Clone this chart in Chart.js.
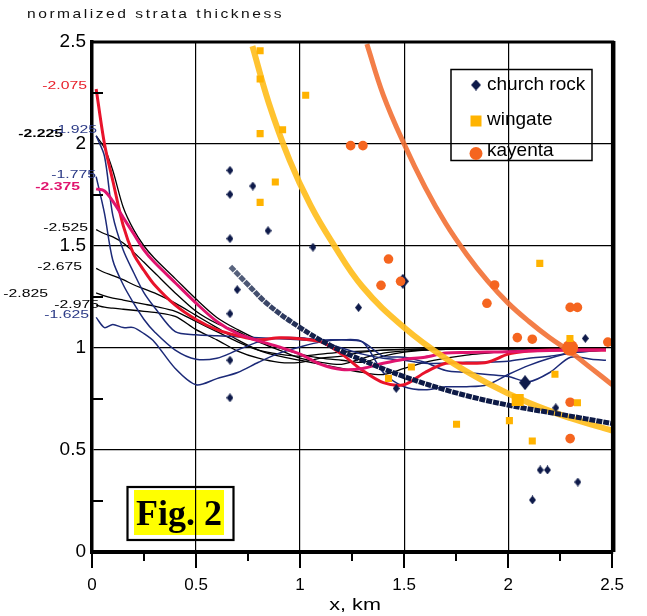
<!DOCTYPE html>
<html>
<head>
<meta charset="utf-8">
<script src="https://cdn.jsdelivr.net/npm/chart.js@4"></script>
<style>
  html, body { margin: 0; padding: 0; background: #fff; }
  canvas { display: block; }
</style>
</head>
<body>
<canvas id="chart" width="647" height="616"></canvas>
<script>
// distance along section (km) where the thickness profiles were sampled
const profileX = [0.02, 0.06, 0.1, 0.15, 0.2, 0.25, 0.3, 0.4, 0.5, 0.6, 0.7, 0.8, 0.9, 1.0, 1.1, 1.2, 1.3, 1.4, 1.5, 1.6, 1.7, 1.8, 1.9, 2.0, 2.1, 2.2, 2.3, 2.4, 2.47];

// normalized thickness profiles, named by their level
const prof2075 = [2.27, 2.0, 1.82, 1.6, 1.46, 1.38, 1.31, 1.21, 1.14, 1.09, 1.06, 1.04, 1.05, 1.045, 1.03, 0.97, 0.89, 0.83, 0.82, 0.88, 0.925, 0.925, 0.93, 0.97, 0.985, 0.99, 0.99, 0.99, 0.99];
const prof2375 = [1.78, 1.77, 1.72, 1.64, 1.56, 1.48, 1.42, 1.32, 1.22, 1.13, 1.07, 1.035, 1.005, 0.97, 0.92, 0.895, 0.9, 0.925, 0.945, 0.955, 0.975, 0.978, 0.98, 0.982, 0.985, 0.988, 0.99, 0.99, 0.99];
const prof2225 = [2.04, 1.98, 1.87, 1.69, 1.58, 1.5, 1.44, 1.34, 1.24, 1.15, 1.09, 1.04, 1.0, 0.97, 0.95, 0.94, 0.93, 0.96, 0.98, 0.99, 0.993, 0.995, 0.995, 0.995, 0.996, 0.996, 0.997, 0.997, 0.997];
const prof2525 = [1.58, 1.56, 1.545, 1.515, 1.47, 1.42, 1.37, 1.27, 1.18, 1.12, 1.08, 1.03, 0.99, 0.95, 0.93, 0.92, 0.95, 0.975, 0.985, 0.99, 0.993, 0.995, 0.995, 0.996, 0.996, 0.997, 0.997, 0.998, 0.998];
const prof2675 = [1.39, 1.37, 1.355, 1.335, 1.31, 1.29, 1.27, 1.22, 1.16, 1.1, 1.04, 0.99, 0.96, 0.94, 0.92, 0.9, 0.88, 0.87, 0.9, 0.93, 0.95, 0.965, 0.975, 0.985, 0.99, 0.993, 0.995, 0.996, 0.996];
const prof2825 = [1.27, 1.255, 1.245, 1.235, 1.225, 1.215, 1.205, 1.18, 1.13, 1.08, 1.03, 0.99, 0.97, 0.96, 0.97, 0.98, 0.985, 0.99, 0.993, 0.995, 0.996, 0.997, 0.998, 0.998, 0.998, 0.999, 0.999, 0.999, 0.999];
const prof2975 = [1.21, 1.2, 1.195, 1.19, 1.185, 1.18, 1.175, 1.155, 1.09, 1.04, 0.985, 0.95, 0.93, 0.93, 0.95, 0.96, 0.98, 0.99, 0.993, 0.995, 0.996, 0.997, 0.998, 0.998, 0.999, 0.999, 1.0, 1.0, 1.0];
const prof1925 = [2.04, 1.94, 1.65, 1.48, 1.37, 1.27, 1.2, 1.08, 1.065, 1.06, 1.055, 1.05, 1.045, 1.04, 1.03, 1.0, 0.97, 0.95, 0.94, 0.925, 0.925, 0.93, 0.93, 0.935, 0.95, 0.96, 0.975, 0.985, 0.99];
const prof1775 = [1.84, 1.66, 1.43, 1.31, 1.22, 1.14, 1.08, 0.99, 0.945, 0.95, 0.99, 1.03, 1.05, 1.05, 1.04, 1.04, 1.03, 0.96, 0.955, 0.93, 0.89, 0.88, 0.87, 0.86, 0.835, 0.88, 0.955, 0.945, 0.94];
const prof1625 = [1.15, 1.1, 1.115, 1.1, 1.1, 1.07, 1.03, 0.9, 0.82, 0.85, 0.88, 0.93, 0.975, 1.005, 1.03, 1.04, 1.03, 0.88, 0.81, 0.795, 0.81, 0.81, 0.82, 0.87, 0.915, 0.95, 0.975, 0.985, 0.99];

// measured points per formation
const churchX = [0.663, 0.663, 0.773, 0.846, 0.663, 1.062, 0.698, 0.663, 1.281, 0.663, 0.663, 1.462, 2.229, 2.371, 2.154, 2.189, 2.335, 2.117];
const churchY = [1.871, 1.753, 1.794, 1.575, 1.536, 1.494, 1.286, 1.168, 1.198, 0.94, 0.756, 0.802, 0.707, 1.047, 0.402, 0.402, 0.343, 0.255];
const churchBigX = [1.494, 2.081];
const churchBigY = [1.327, 0.83];
const wingateX = [0.808, 0.808, 1.027, 0.916, 0.808, 0.881, 0.808, 1.425, 1.535, 2.152, 2.297, 2.225, 2.333, 1.752, 2.006, 2.116];
const wingateY = [2.457, 2.319, 2.239, 2.07, 2.051, 1.814, 1.714, 0.851, 0.907, 1.415, 1.047, 0.871, 0.732, 0.626, 0.644, 0.544];
const wingateBigX = [2.046];
const wingateBigY = [0.745];
const kayentaX = [1.243, 1.302, 1.425, 1.389, 1.483, 1.935, 1.898, 2.044, 2.116, 2.298, 2.333, 2.479, 2.298, 2.298];
const kayentaY = [1.992, 1.992, 1.436, 1.307, 1.327, 1.309, 1.219, 1.051, 1.043, 1.199, 1.199, 1.029, 0.734, 0.556];
const kayentaBigX = [2.298];
const kayentaBigY = [1.001];

// fitted trend curves
const churchTrendX = [0.665, 0.75, 0.85, 1.0, 1.15, 1.3, 1.5, 1.75, 2.0, 2.25, 2.5];
const churchTrendY = [1.40, 1.31, 1.21, 1.10, 1.01, 0.94, 0.86, 0.78, 0.72, 0.675, 0.63];
const wingateTrendX = [0.771, 0.85, 0.95, 1.05, 1.15, 1.3, 1.5, 1.7, 1.9, 2.1, 2.3, 2.5];
const wingateTrendY = [2.48, 2.2, 1.92, 1.7, 1.525, 1.3, 1.1, 0.948, 0.828, 0.731, 0.656, 0.595];
const kayentaTrendX = [1.321, 1.4, 1.5, 1.6, 1.7, 1.8, 1.9, 2.0, 2.1, 2.2, 2.3, 2.4, 2.5];
const kayentaTrendY = [2.49, 2.24, 2.0, 1.79, 1.61, 1.46, 1.33, 1.22, 1.13, 1.05, 0.98, 0.9, 0.82];

const NAVY = '#1c2a78';
const MARK_NAVY = '#0e1a4a';
const WINGATE = '#ffb300';
const KAYENTA = '#f5651f';

const pts = (xs, ys) => xs.map((x, i) => ({ x: x, y: ys[i] }));

function diamond(w, h, color) {
  const c = document.createElement('canvas');
  c.width = w; c.height = h;
  const g = c.getContext('2d');
  g.fillStyle = color;
  g.beginPath();
  g.moveTo(w / 2, 0); g.lineTo(w, h / 2); g.lineTo(w / 2, h); g.lineTo(0, h / 2);
  g.closePath();
  g.fill();
  return c;
}

function profile(values, color, width, order, label) {
  return {
    data: pts(profileX, values), showLine: true, borderColor: color, borderWidth: width,
    pointRadius: 0, tension: 0.3, order: order, startLabel: label,
  };
}

// stretched text like the original export
function wideText(ctx, text, x, y, font, sx, align) {
  ctx.save();
  ctx.font = font;
  const w = ctx.measureText(text).width * sx;
  const left = align === 'right' ? x - w : align === 'center' ? x - w / 2 : x;
  ctx.translate(left, y);
  ctx.scale(sx, 1);
  ctx.textAlign = 'left';
  ctx.fillText(text, 0, 0);
  ctx.restore();
}

const figLabel = {
  id: 'figLabel',
  beforeDraw(chart) {
    const c = chart.ctx;
    c.save();
    c.fillStyle = '#ffff00';
    c.fillRect(134, 490, 90, 45);
    c.strokeStyle = '#000';
    c.lineWidth = 2.2;
    c.strokeRect(127.5, 487, 106, 53);
    c.fillStyle = '#000';
    c.font = 'bold 36px "Liberation Serif"';
    c.textAlign = 'center';
    c.textBaseline = 'alphabetic';
    c.fillText('Fig. 2', 179, 525);
    c.restore();
  }
};

const frame = {
  id: 'frame',
  afterDraw(chart) {
    const c = chart.ctx;
    const { left, right, top, bottom } = chart.chartArea;
    const xs = chart.scales.x, ys = chart.scales.y;
    c.save();
    c.strokeStyle = '#000';
    c.lineWidth = 3;
    c.beginPath(); c.moveTo(left, top); c.lineTo(right + 2, top); c.stroke();
    c.lineWidth = 4.5;
    c.beginPath(); c.moveTo(right + 1, top - 1); c.lineTo(right + 1, bottom); c.stroke();
    // x ticks point down, y minor ticks point inward
    c.lineWidth = 2;
    for (let v = 0; v <= 2.5001; v += 0.25) {
      const px = Math.round(xs.getPixelForValue(v));
      const major = Math.abs(v * 2 - Math.round(v * 2)) < 1e-6;
      c.beginPath(); c.moveTo(px, bottom); c.lineTo(px, bottom + (major ? 16 : 9)); c.stroke();
      if (!major) {
        const py = Math.round(ys.getPixelForValue(v));
        c.beginPath(); c.moveTo(left, py); c.lineTo(left + 11, py); c.stroke();
      }
    }
    // axis titles
    c.fillStyle = '#111';
    c.textBaseline = 'alphabetic';
    c.letterSpacing = '2.1px';
    wideText(c, 'normalized strata thickness', 27, 18, '13px "Liberation Sans"', 1.2, 'left');
    c.letterSpacing = '0px';
    c.fillStyle = '#000';
    wideText(c, 'x, km', (left + right) / 2 + 3, 610, '16px "Liberation Sans"', 1.35, 'center');
    c.restore();
  }
};

const startLabels = {
  id: 'startLabels',
  afterDatasetsDraw(chart) {
    const c = chart.ctx;
    const xs = chart.scales.x, ys = chart.scales.y;
    const x0 = xs.getPixelForValue(0);
    c.save();
    c.textBaseline = 'middle';
    chart.data.datasets.forEach(ds => {
      const lb = ds.startLabel;
      if (!lb) return;
      c.fillStyle = lb.color;
      const y = ys.getPixelForValue(ds.data[0].y) + lb.dy;
      wideText(c, lb.text, x0 + lb.dx, y, (lb.bold ? 'bold ' : '') + '10.5px "Liberation Sans"', 1.5, 'right');
    });
    c.restore();
  }
};

const boxLegend = {
  id: 'boxLegend',
  afterDraw(chart) {
    const c = chart.ctx;
    c.save();
    c.strokeStyle = '#000';
    c.lineWidth = 1.5;
    c.strokeRect(451, 69.5, 141, 91);
    c.drawImage(diamond(10, 11, MARK_NAVY), 471, 79.5);
    c.fillStyle = WINGATE;
    c.fillRect(470.5, 115.5, 11, 11);
    c.fillStyle = KAYENTA;
    c.beginPath(); c.arc(476, 153.5, 6.5, 0, Math.PI * 2); c.fill();
    c.fillStyle = '#000';
    c.font = '19px "Liberation Sans"';
    c.textBaseline = 'middle';
    c.fillText('church rock', 487, 85);
    c.fillText('wingate', 487, 120);
    c.fillText('kayenta', 487, 151);
    c.restore();
  }
};

const gridColor = (ctx) => {
  const v = ctx.tick ? ctx.tick.value : 0;
  return (v > 0.01 && v < 2.49) ? '#000' : 'rgba(0,0,0,0)';
};
const plainTick = (v) => String(Math.round(v * 100) / 100);

const ctx = document.getElementById('chart').getContext('2d');
new Chart(ctx, {
  type: 'scatter',
  data: {
    datasets: [
      profile(prof2225, '#000', 1.3, 7, { text: '-2.225', color: '#000', bold: true, dx: -29, dy: -2 }),
      profile(prof2525, '#000', 1.3, 7, { text: '-2.525', color: '#000', dx: -4, dy: -2 }),
      profile(prof2675, '#000', 1.3, 7, { text: '-2.675', color: '#000', dx: -10, dy: -1 }),
      profile(prof2825, '#000', 1.3, 7, { text: '-2.825', color: '#000', dx: -44, dy: 1 }),
      profile(prof2975, '#000', 1.3, 7, { text: '-2.975', color: '#000', dx: 7, dy: 0 }),
      profile(prof1925, NAVY, 1.5, 6, { text: '-1.925', color: '#2b3a86', dx: 5, dy: -6 }),
      profile(prof1775, NAVY, 1.5, 6, { text: '-1.775', color: '#2b3a86', dx: 4, dy: -2 }),
      profile(prof1625, NAVY, 1.5, 6, { text: '-1.625', color: '#2b3a86', dx: -3, dy: -2 }),
      profile(prof2075, '#e8132b', 3, 5, { text: '-2.075', color: '#e8202a', dx: -5, dy: -3 }),
      profile(prof2375, '#e0146e', 3, 4, { text: '-2.375', color: '#e0146e', bold: true, dx: -12, dy: -2 }),
      {
        data: pts(kayentaTrendX, kayentaTrendY), showLine: true, pointRadius: 0, tension: 0.4,
        borderColor: 'rgba(242,112,52,0.9)', borderWidth: 5, order: 3,
      },
      {
        data: pts(wingateTrendX, wingateTrendY), showLine: true, pointRadius: 0, tension: 0.4,
        borderColor: 'rgba(255,190,30,0.92)', borderWidth: 6, order: 2,
      },
      {
        data: pts(churchTrendX, churchTrendY), showLine: true, pointRadius: 0, tension: 0.4,
        borderWidth: 5, borderDash: [6, 1], order: 1,
        borderColor: (c) => {
          const ch = c.chart;
          if (!ch.chartArea) return MARK_NAVY;
          const xs = ch.scales.x;
          const g = ch.ctx.createLinearGradient(xs.getPixelForValue(churchTrendX[0]), 0, xs.getPixelForValue(1.1), 0);
          g.addColorStop(0, '#5b6680');
          g.addColorStop(1, '#0d1a46');
          return g;
        },
      },
      { data: pts(wingateX, wingateY), pointStyle: 'rect', pointRadius: 5, backgroundColor: WINGATE, borderWidth: 0, order: 0 },
      { data: pts(wingateBigX, wingateBigY), pointStyle: 'rect', pointRadius: 8.5, backgroundColor: WINGATE, borderWidth: 0, order: 0 },
      { data: pts(kayentaX, kayentaY), pointStyle: 'circle', pointRadius: 4.8, backgroundColor: KAYENTA, borderWidth: 0, order: 0 },
      { data: pts(kayentaBigX, kayentaBigY), pointStyle: 'circle', pointRadius: 8, backgroundColor: KAYENTA, borderWidth: 0, order: 0 },
      { data: pts(churchX, churchY), pointStyle: diamond(7, 9, MARK_NAVY), order: 0 },
      { data: pts(churchBigX, churchBigY), pointStyle: diamond(12, 15, MARK_NAVY), order: 0 },
    ],
  },
  options: {
    responsive: false,
    animation: false,
    layout: { padding: { top: 42, right: 30, left: 0, bottom: 0 } },
    scales: {
      x: {
        type: 'linear', min: 0, max: 2.5,
        ticks: { stepSize: 0.5, color: '#000', font: { family: 'Liberation Sans', size: 17 }, padding: 23, maxRotation: 0, callback: plainTick },
        grid: { color: gridColor, lineWidth: 1.2, drawTicks: false },
        border: { display: true, color: '#000', width: 4 },
        afterFit: (s) => { s.height = 64; },
      },
      y: {
        type: 'linear', min: 0, max: 2.5,
        ticks: { stepSize: 0.5, color: '#000', font: { family: 'Liberation Sans', size: 19 }, padding: 6, callback: plainTick },
        grid: { color: gridColor, lineWidth: 1.2, drawTicks: false },
        border: { display: true, color: '#000', width: 3.5 },
        afterFit: (s) => { s.width = 92; },
      },
    },
    plugins: {
      legend: { display: false },
      tooltip: { enabled: false },
    },
  },
  plugins: [figLabel, frame, startLabels, boxLegend],
});
</script>
</body>
</html>
